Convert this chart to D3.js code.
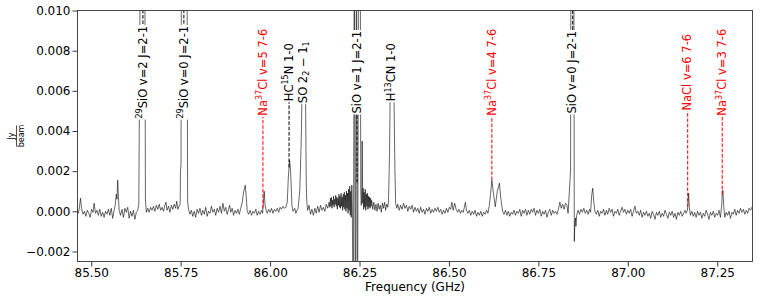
<!DOCTYPE html>
<html>
<head>
<meta charset="utf-8">
<script src="https://cdn.jsdelivr.net/npm/d3@7"></script>
<style>
  body { margin: 0; background: #fff; }
  text { font-family: "DejaVu Sans", sans-serif; }
</style>
</head>
<body>
<div id="chart"></div>
<script>
// spectrum: [frequency GHz, flux mJy/beam]
const spectrum = [
  [85.460, 0.05], [85.464, -0.10], [85.467, 0.20], [85.470, 0.65], [85.473, 0.15], [85.477, -0.15],
  [85.481, 0.00], [85.485, -0.25], [85.489, 0.05], [85.493, -0.10], [85.497, -0.30], [85.501, 0.10],
  [85.505, -0.05], [85.508, 0.40], [85.512, -0.10], [85.516, 0.05], [85.520, -0.20], [85.524, 0.10],
  [85.528, -0.25], [85.532, -0.05], [85.536, -0.30], [85.540, 0.00], [85.544, -0.15], [85.548, 0.10],
  [85.552, -0.20], [85.556, 0.15], [85.560, -0.35], [85.564, 0.05], [85.567, 0.30], [85.570, 0.85],
  [85.572, 0.60], [85.574, 1.55], [85.576, 0.70], [85.578, 0.05], [85.582, -0.20], [85.586, 0.10],
  [85.590, -0.30], [85.594, 0.15], [85.598, -0.05], [85.602, 0.20], [85.606, -0.35], [85.610, 0.00],
  [85.614, -0.25], [85.618, 0.05], [85.622, -0.40], [85.626, -0.05], [85.630, 0.05], [85.633, 0.35],
  [85.6365, 11.0], [85.643, 13.0], [85.650, 11.5], [85.6515, 0.60], [85.654, -0.05],
  [85.658, 0.15], [85.662, -0.05], [85.666, 0.20], [85.670, 0.05], [85.674, 0.25], [85.678, 0.00],
  [85.682, 0.30], [85.686, 0.10], [85.690, 0.35], [85.694, 0.05], [85.698, 0.20], [85.702, 0.00],
  [85.706, 0.30], [85.709, 0.45], [85.712, 0.05], [85.716, 0.25], [85.720, -0.05], [85.724, 0.30],
  [85.728, 0.10], [85.732, 0.35], [85.736, 0.15], [85.739, 0.50], [85.742, 0.10], [85.745, 0.25],
  [85.7485, 0.35], [85.7495, 2.00], [85.751, 2.30], [85.752, 12.0], [85.760, 14.0], [85.768, 11.0],
  [85.7695, 0.50], [85.772, 0.10],
  [85.776, -0.15], [85.780, 0.05], [85.784, -0.25], [85.788, 0.00], [85.792, -0.30], [85.796, 0.10],
  [85.800, -0.10], [85.804, 0.15], [85.808, -0.20], [85.812, 0.05], [85.816, -0.15], [85.820, 0.20],
  [85.824, -0.25], [85.828, 0.00], [85.832, -0.10], [85.836, 0.25], [85.840, -0.05], [85.844, 0.10],
  [85.848, -0.20], [85.852, 0.15], [85.856, -0.05], [85.860, 0.25], [85.864, -0.10], [85.868, 0.40],
  [85.872, 0.00], [85.876, 0.20], [85.880, -0.15], [85.884, 0.10], [85.887, 0.30], [85.890, -0.05],
  [85.894, 0.15], [85.898, -0.20], [85.902, 0.05], [85.906, -0.10], [85.910, 0.10], [85.914, -0.15],
  [85.918, 0.15], [85.922, 0.45], [85.926, 0.95], [85.9305, 1.30], [85.933, 0.80], [85.936, 0.00],
  [85.940, -0.15], [85.944, 0.05], [85.948, -0.20], [85.952, 0.00], [85.956, -0.10], [85.960, 0.10],
  [85.964, -0.20], [85.968, 0.00], [85.972, -0.15], [85.976, 0.05], [85.979, -0.10], [85.9835, 1.00],
  [85.986, 0.30], [85.989, 0.05], [85.992, -0.10], [85.996, 0.10], [86.000, -0.05], [86.004, 0.15],
  [86.008, -0.10], [86.012, 0.10], [86.016, 0.00], [86.020, 0.15], [86.024, -0.05], [86.028, 0.20],
  [86.032, 0.10], [86.036, 0.25], [86.040, 0.15], [86.044, 0.20], [86.048, 0.45], [86.051, 1.70],
  [86.0545, 2.55], [86.0575, 1.95], [86.061, 0.30], [86.064, 0.00], [86.069, 0.15], [86.072, -0.10],
  [86.075, 0.05], [86.078, 0.10], [86.083, 1.00], [86.087, 3.50], [86.090, 6.50], [86.095, 7.00],
  [86.099, 6.00], [86.101, 1.50], [86.1025, 0.50], [86.105, 0.05], [86.109, 0.30], [86.113, -0.15],
  [86.117, 0.10], [86.121, -0.20], [86.125, 0.15], [86.129, -0.10], [86.133, 0.25], [86.137, -0.05],
  [86.141, 0.30], [86.145, 0.05], [86.149, 0.20], [86.153, 0.00], [86.157, 0.35], [86.161, 0.15],
  [86.165, 0.45],
  [86.1670, 0.20], [86.1685, 0.65], [86.1700, 0.25], [86.1715, 0.70], [86.1730, 0.15], [86.1745, 0.55],
  [86.1760, 0.30], [86.1775, 0.75], [86.1790, 0.20], [86.1805, 0.60], [86.1820, 0.35], [86.1835, 0.80],
  [86.1850, 0.25], [86.1865, 0.70], [86.1880, 0.10], [86.1895, 0.65], [86.1910, 0.30], [86.1925, 0.85],
  [86.1940, 0.20], [86.1955, 0.75], [86.1970, 0.15], [86.1985, 0.90], [86.2000, 0.25], [86.2015, 0.70],
  [86.2030, 0.05], [86.2045, 0.85], [86.2060, 0.20], [86.2075, 0.95], [86.2090, 0.10], [86.2105, 0.80],
  [86.2120, 0.00], [86.2135, 1.00], [86.2150, 0.15], [86.2165, 0.90], [86.2180, -0.10], [86.2195, 1.10],
  [86.2210, 0.05], [86.2225, 1.25], [86.2240, -0.20], [86.2255, 1.00], [86.2270, -0.30], [86.2285, 1.30],
  [86.2300, 0.10],
  [86.2325, -8.0], [86.2353, 14.0], [86.2386, -8.0], [86.2414, 14.0], [86.2442, -8.0], [86.2475, 14.0],
  [86.2520, 14.0], [86.2535, 1.00],
  [86.2550, 0.30], [86.2565, 1.20], [86.2575, 3.50], [86.2590, 0.40], [86.2600, 1.15], [86.2615, 0.10],
  [86.2630, 0.95], [86.2645, 0.20], [86.2660, 1.10], [86.2675, 0.05], [86.2690, 0.85], [86.2705, 0.25],
  [86.2720, 0.90], [86.2735, 0.10], [86.2750, 0.75], [86.2765, 0.20], [86.2780, 0.70], [86.2795, 0.15],
  [86.2810, 0.65], [86.2825, 0.25], [86.2840, 0.55],
  [86.287, 0.10], [86.290, 0.45], [86.293, 0.05], [86.296, 0.35], [86.299, 0.00], [86.302, 0.40],
  [86.305, 0.10], [86.308, 0.30], [86.311, -0.05], [86.314, 0.40], [86.317, 0.15], [86.320, 0.45],
  [86.323, 0.05], [86.326, 0.35], [86.329, 0.20], [86.331, 0.50], [86.334, 3.00], [86.336, 6.30],
  [86.341, 6.80], [86.346, 6.20], [86.349, 2.00], [86.351, 0.40], [86.354, 0.15], [86.357, 0.35],
  [86.361, 0.05], [86.365, 0.30], [86.369, 0.10], [86.373, 0.40], [86.377, 0.15], [86.381, 0.30],
  [86.385, 0.00], [86.389, 0.25], [86.393, 0.10], [86.397, 0.30], [86.401, -0.05], [86.405, 0.20],
  [86.409, 0.00], [86.413, 0.15], [86.417, -0.10], [86.421, 0.20], [86.425, -0.05], [86.429, 0.10],
  [86.433, -0.15], [86.437, 0.15], [86.441, 0.00], [86.445, 0.20], [86.449, -0.10], [86.453, 0.10],
  [86.457, -0.05], [86.461, 0.15], [86.465, 0.00], [86.469, 0.20], [86.473, -0.05], [86.477, 0.10],
  [86.481, -0.15], [86.485, 0.05], [86.489, -0.10], [86.493, 0.15], [86.497, -0.05], [86.501, 0.20],
  [86.505, 0.10], [86.508, 0.45], [86.512, 0.05], [86.516, 0.40], [86.520, 0.10], [86.524, -0.05],
  [86.528, 0.10], [86.532, -0.10], [86.536, 0.05], [86.540, -0.05], [86.543, 0.20], [86.546, 0.45],
  [86.549, 0.05], [86.553, -0.10], [86.557, 0.05], [86.561, -0.20], [86.565, 0.00], [86.569, -0.15],
  [86.573, 0.05], [86.577, -0.25], [86.581, -0.05], [86.585, -0.20], [86.589, 0.00], [86.593, -0.25],
  [86.597, -0.05], [86.601, -0.15], [86.605, 0.05], [86.609, -0.10], [86.613, 0.30], [86.6165, 0.90],
  [86.620, 1.55], [86.625, 0.80], [86.6295, 0.23], [86.635, 0.98], [86.641, 1.40], [86.645, 0.65],
  [86.650, 0.00], [86.654, -0.15], [86.658, 0.05], [86.662, -0.20], [86.666, 0.00], [86.670, -0.25],
  [86.674, -0.05], [86.678, -0.15], [86.682, 0.05], [86.686, -0.20], [86.690, 0.00], [86.694, -0.10],
  [86.698, 0.10], [86.702, -0.25], [86.706, 0.05], [86.710, -0.10], [86.714, 0.10], [86.718, -0.20],
  [86.722, 0.05], [86.726, -0.15], [86.730, 0.10], [86.734, -0.05], [86.738, 0.15], [86.742, -0.20],
  [86.746, 0.05], [86.750, -0.10], [86.754, 0.10], [86.758, -0.25], [86.762, 0.00], [86.766, -0.15],
  [86.770, 0.05], [86.774, -0.30], [86.778, -0.05], [86.782, 0.10], [86.786, -0.20], [86.790, 0.05],
  [86.794, -0.10], [86.798, 0.00], [86.802, -0.15], [86.806, 0.10], [86.810, 0.45], [86.814, 0.15],
  [86.818, 0.35], [86.822, 0.10], [86.826, 0.40], [86.830, 0.30], [86.833, -0.10], [86.836, 0.80],
  [86.838, 1.40], [86.8400, 2.00], [86.8410, 13.0], [86.8450, 15.0], [86.8490, 13.0], [86.8505, -1.50],
  [86.8520, -0.60], [86.8536, -0.33], [86.8550, -0.75], [86.8570, -0.20],
  [86.861, 0.05], [86.865, -0.15], [86.869, 0.10], [86.873, -0.05], [86.877, 0.15], [86.881, -0.10],
  [86.885, 0.05], [86.889, -0.15], [86.893, 0.10], [86.896, -0.05], [86.899, 0.80], [86.902, 1.15],
  [86.905, 0.45], [86.908, 0.00], [86.912, -0.15], [86.916, 0.05], [86.920, -0.25], [86.924, 0.00],
  [86.928, -0.10], [86.932, 0.10], [86.936, -0.20], [86.940, 0.05], [86.944, -0.15], [86.948, 0.15],
  [86.952, -0.05], [86.956, 0.10], [86.960, -0.25], [86.964, 0.00], [86.968, -0.10], [86.972, 0.10],
  [86.976, -0.20], [86.980, 0.00], [86.984, 0.20], [86.988, -0.05], [86.992, 0.10], [86.996, -0.15],
  [87.000, 0.05], [87.004, -0.10], [87.008, 0.10], [87.012, -0.25], [87.016, 0.00], [87.020, 0.25],
  [87.024, -0.10], [87.028, 0.00], [87.032, -0.20], [87.036, 0.05], [87.040, -0.30], [87.044, -0.05],
  [87.048, -0.20], [87.052, 0.00], [87.056, -0.25], [87.060, -0.10], [87.064, -0.35], [87.068, 0.00],
  [87.072, -0.15], [87.076, -0.40], [87.080, -0.05], [87.084, -0.20], [87.088, 0.00], [87.092, -0.30],
  [87.096, -0.10], [87.100, -0.25], [87.104, 0.05], [87.108, -0.15], [87.112, -0.35], [87.116, -0.05],
  [87.120, -0.20], [87.124, 0.00], [87.128, -0.30], [87.132, -0.10], [87.136, -0.40], [87.140, -0.05],
  [87.144, -0.20], [87.148, 0.00], [87.152, -0.25], [87.156, -0.10], [87.160, 0.05], [87.163, -0.10],
  [87.1665, 0.05], [87.168, 0.30], [87.170, 0.90], [87.172, 0.20], [87.175, -0.20], [87.179, 0.00],
  [87.183, -0.25], [87.187, -0.05], [87.191, -0.30], [87.195, 0.00], [87.199, -0.20], [87.203, -0.05],
  [87.207, -0.35], [87.211, -0.10], [87.215, -0.25], [87.219, 0.05], [87.223, -0.15], [87.227, -0.40],
  [87.231, -0.05], [87.235, -0.20], [87.239, 0.00], [87.243, -0.30], [87.247, -0.10], [87.251, -0.20],
  [87.255, 0.05], [87.259, -0.30], [87.2625, 0.30], [87.2645, 1.00], [87.266, 1.05], [87.268, 0.30],
  [87.271, -0.30], [87.275, -0.05], [87.279, -0.20], [87.283, 0.00], [87.287, -0.35], [87.291, -0.05],
  [87.295, -0.15], [87.299, 0.10], [87.303, -0.20], [87.307, 0.05], [87.311, -0.10], [87.315, 0.15],
  [87.319, -0.05], [87.323, 0.10], [87.327, -0.15], [87.331, 0.05], [87.335, -0.10], [87.339, 0.15],
  [87.343, 0.05], [87.347, 0.20], [87.350, 0.10]
];

// line identifications
const lineFreqs  = [85.6445, 85.759, 85.980, 86.053, 86.094, 86.243, 86.340, 86.620, 86.846, 87.1675, 87.264];
const lineLabels = [
  "^{29}SiO v=2 J=2-1", "^{29}SiO v=0 J=2-1", "Na^{37}Cl v=5 7-6", "HC^{15}N 1-0",
  "SO 2_{2} \u2212 1_{1}", "SiO v=1 J=2-1", "H^{13}CN 1-0", "Na^{37}Cl v=4 7-6",
  "SiO v=0 J=2-1", "NaCl v=6 7-6", "Na^{37}Cl v=3 7-6"
];
const lineIsNaCl = [false, false, true, false, false, false, false, true, false, true, true];
const labelLevel = 0.007;

const xTicks = [85.50, 85.75, 86.00, 86.25, 86.50, 86.75, 87.00, 87.25];
const yTicks = [-0.002, 0.000, 0.002, 0.004, 0.006, 0.008, 0.010];

const width = 761, height = 299;
const margin = { top: 10.5, right: 8.5, bottom: 37.5, left: 77.5 };
const labelSize = 11.5;

const svg = d3.select("#chart").append("svg")
    .attr("width", width)
    .attr("height", height);

const x = d3.scaleLinear().domain([85.4616, 87.3486]).range([margin.left, width - margin.right]);
const y = d3.scaleLinear().domain([-0.0025, 0.0100]).range([height - margin.bottom, margin.top]);

svg.append("clipPath").attr("id", "plot-clip")
  .append("rect")
    .attr("x", margin.left).attr("y", margin.top)
    .attr("width", width - margin.left - margin.right)
    .attr("height", height - margin.top - margin.bottom);

// spectrum
const line = d3.line()
    .x(d => x(d[0]))
    .y(d => y(d[1] / 1000));

svg.append("path")
    .datum(spectrum)
    .attr("clip-path", "url(#plot-clip)")
    .attr("fill", "none")
    .attr("stroke", "#000")
    .attr("stroke-width", 0.6)
    .attr("d", line);

// flux at a given frequency (linear between channels)
const bis = d3.bisector(d => d[0]).left;
function fluxAt(f) {
  const i = Math.max(1, Math.min(spectrum.length - 1, bis(spectrum, f)));
  const a = spectrum[i - 1], b = spectrum[i];
  const t = (f - a[0]) / (b[0] - a[0]);
  return (a[1] + t * (b[1] - a[1])) / 1000;
}

// dashed markers from the spectrum to the label
svg.append("g").attr("clip-path", "url(#plot-clip)")
  .selectAll("line")
  .data(lineFreqs)
  .join("line")
    .attr("x1", d => x(d)).attr("x2", d => x(d))
    .attr("y1", d => y(fluxAt(d)))
    .attr("y2", y(labelLevel))
    .attr("stroke", (d, i) => lineIsNaCl[i] ? "#ff0000" : "#000")
    .attr("stroke-width", 1)
    .attr("stroke-dasharray", "3.7,1.6");

// rich text: ^{..} superscript, _{..} subscript
function addRich(textSel, str, size) {
  const re = /([\^_])\{([^}]*)\}/g;
  let last = 0, m, shift = 0;
  const small = size * 0.7;
  const push = (s, kind) => {
    if (!s) return;
    const target = kind === "^" ? -size * 0.38 : kind === "_" ? size * 0.2 : 0;
    textSel.append("tspan")
      .attr("dy", target - shift)
      .attr("font-size", kind ? small : size)
      .text(s);
    shift = target;
  };
  while ((m = re.exec(str)) !== null) {
    push(str.slice(last, m.index), null);
    push(m[2], m[1]);
    last = re.lastIndex;
  }
  push(str.slice(last), null);
}

lineFreqs.forEach((f, i) => {
  const g = svg.append("g")
      .attr("transform", `translate(${x(f)},${y(labelLevel)}) rotate(-90)`);
  const box = g.append("rect").attr("fill", "white");
  const t = g.append("text")
      .attr("font-size", labelSize)
      .attr("text-anchor", "middle")
      .attr("x", -1.5)
      .attr("fill", lineIsNaCl[i] ? "#ff0000" : "#000");
  addRich(t, lineLabels[i], labelSize);
  const bb = t.node().getBBox();
  const dy = -(bb.y + bb.height / 2) - 0.5;
  t.attr("y", dy);
  box.attr("x", bb.x - 1).attr("y", bb.y + dy)
     .attr("width", bb.width + 2).attr("height", bb.height);
});

// axes
const xAxis = d3.axisBottom(x).tickValues(xTicks).tickFormat(d3.format(".2f"))
    .tickSize(5).tickSizeOuter(0).tickPadding(1.5);
const yAxis = d3.axisLeft(y).tickValues(yTicks).tickFormat(d3.format(".3f"))
    .tickSize(5).tickSizeOuter(0).tickPadding(2);

const gx = svg.append("g")
    .attr("transform", `translate(0,${height - margin.bottom})`)
    .call(xAxis);
const gy = svg.append("g")
    .attr("transform", `translate(${margin.left},0)`)
    .call(yAxis);

[gx, gy].forEach(g => {
  g.select(".domain").remove();
  g.selectAll(".tick line").attr("stroke", "#222").attr("stroke-width", 0.9);
  g.selectAll(".tick text").attr("font-size", 12).attr("fill", "#000")
    .attr("font-family", "DejaVu Sans, sans-serif");
});

// frame
svg.append("rect")
    .attr("x", margin.left).attr("y", margin.top)
    .attr("width", width - margin.left - margin.right)
    .attr("height", height - margin.top - margin.bottom)
    .attr("fill", "none")
    .attr("stroke", "#333")
    .attr("stroke-width", 0.9);

// axis titles
svg.append("text")
    .attr("x", (margin.left + width - margin.right) / 2)
    .attr("y", 290.5)
    .attr("text-anchor", "middle")
    .attr("font-size", 12)
    .text("Frequency (GHz)");

const yl = svg.append("g")
    .attr("transform", `translate(16.5,${(margin.top + height - margin.bottom) / 2}) rotate(-90)`);
yl.append("text").attr("text-anchor", "middle").attr("y", -2.4)
    .attr("font-size", 8).text("Jy");
yl.append("line").attr("x1", -10.5).attr("x2", 10.5).attr("y1", 0).attr("y2", 0)
    .attr("stroke", "#000").attr("stroke-width", 0.7);
yl.append("text").attr("text-anchor", "middle").attr("y", 7.4)
    .attr("font-size", 8).text("beam");
</script>
</body>
</html>
